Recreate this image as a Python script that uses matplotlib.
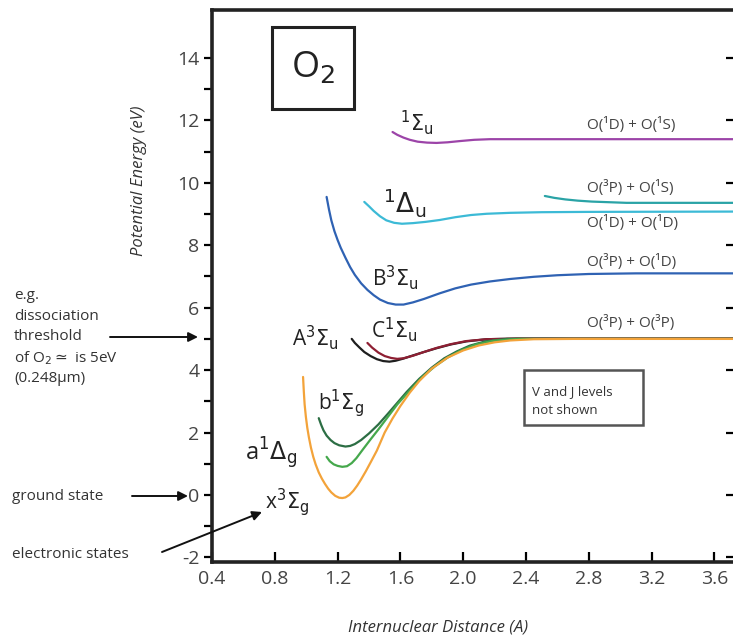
import matplotlib
matplotlib.use("Agg")
import matplotlib.pyplot as plt
from matplotlib.patches import Rectangle

plt.rcParams['font.family'] = ['Open Sans', 'DejaVu Sans']
plt.rcParams['mathtext.fontset'] = 'dejavusans'
plt.rcParams['axes.unicode_minus'] = False

# potential curves (internuclear distance in A, energy in eV)
x_X3Sg = [0.98, 0.985, 0.99, 0.998, 1.007, 1.017, 1.03, 1.045, 1.06, 1.08, 1.1, 1.12, 1.14, 1.16, 1.185,
          1.21, 1.23, 1.25, 1.275, 1.3, 1.325, 1.35, 1.38, 1.41, 1.45, 1.5, 1.55, 1.6, 1.66, 1.72, 1.8,
          1.9, 2.0, 2.1, 2.2, 2.3, 2.45, 2.7, 3.74]
y_X3Sg = [3.78, 3.3, 2.9, 2.5, 2.15, 1.85, 1.52, 1.22, 0.98, 0.72, 0.52, 0.35, 0.2, 0.08, -0.03,
          -0.09, -0.1, -0.08, 0.0, 0.13, 0.3, 0.5, 0.76, 1.04, 1.42, 2.0, 2.45, 2.85, 3.28, 3.65, 4.05,
          4.4, 4.63, 4.79, 4.89, 4.95, 4.99, 5.0, 5.0]

x_a1Dg = [1.13, 1.15, 1.175, 1.2, 1.23, 1.26, 1.29, 1.32, 1.36, 1.41, 1.46, 1.52, 1.58, 1.66, 1.74,
          1.82, 1.9, 1.98, 2.08, 2.19, 2.35, 3.74]
y_a1Dg = [1.22, 1.08, 0.98, 0.93, 0.9, 0.92, 1.02, 1.18, 1.45, 1.78, 2.1, 2.5, 2.9, 3.35, 3.78,
          4.12, 4.4, 4.62, 4.82, 4.94, 5.0, 5.0]

x_b1Sg = [1.08, 1.095, 1.11, 1.13, 1.155, 1.18, 1.21, 1.25, 1.28, 1.31, 1.35, 1.4, 1.46, 1.52, 1.58,
          1.64, 1.72, 1.8, 1.88, 1.96, 2.04, 2.14, 2.28, 3.74]
y_b1Sg = [2.46, 2.25, 2.07, 1.9, 1.76, 1.66, 1.59, 1.55, 1.57, 1.63, 1.76, 1.97, 2.26, 2.6, 2.95,
          3.3, 3.72, 4.08, 4.38, 4.6, 4.78, 4.92, 5.0, 5.0]

x_A3Su = [1.29, 1.31, 1.34, 1.37, 1.41, 1.45, 1.49, 1.53, 1.57, 1.62, 1.68, 1.75, 1.83, 1.92, 2.02,
          2.15, 2.35, 3.74]
y_A3Su = [5.0, 4.87, 4.72, 4.58, 4.45, 4.35, 4.29, 4.27, 4.3, 4.37, 4.47, 4.58, 4.7, 4.82, 4.92,
          4.99, 5.01, 5.01]

x_C1Su = [1.39, 1.42, 1.46, 1.5, 1.54, 1.58, 1.62, 1.68, 1.75, 1.83, 1.92, 2.02, 2.15, 2.35, 3.74]
y_C1Su = [4.87, 4.72, 4.56, 4.45, 4.39, 4.36, 4.38, 4.46, 4.58, 4.71, 4.83, 4.93, 4.99, 5.01, 5.01]

x_B3Su = [1.13, 1.145, 1.16, 1.18, 1.2, 1.22, 1.25, 1.28, 1.31, 1.35, 1.39, 1.43, 1.47, 1.52, 1.57,
          1.62, 1.68, 1.75, 1.85, 1.95, 2.05, 2.17, 2.3, 2.45, 2.6, 2.8, 3.1, 3.74]
y_B3Su = [9.55, 9.15, 8.8, 8.45, 8.17, 7.92, 7.6, 7.3, 7.05, 6.78, 6.57, 6.4, 6.26, 6.15, 6.1,
          6.1, 6.17, 6.28, 6.46, 6.62, 6.74, 6.84, 6.92, 6.99, 7.04, 7.08, 7.1, 7.1]

x_1Du = [1.37, 1.4, 1.43, 1.47, 1.51, 1.56, 1.61, 1.68, 1.76, 1.85, 1.95, 2.05, 2.15, 2.3, 2.5, 2.8, 3.74]
y_1Du = [9.39, 9.25, 9.1, 8.93, 8.8, 8.72, 8.69, 8.71, 8.75, 8.81, 8.9, 8.97, 9.01, 9.04, 9.06, 9.07, 9.08]

x_3P1S = [2.52, 2.58, 2.65, 2.73, 2.82, 2.93, 3.04, 3.74]
y_3P1S = [9.58, 9.52, 9.47, 9.43, 9.4, 9.38, 9.36, 9.36]

x_1Su = [1.55, 1.58, 1.62, 1.66, 1.71, 1.77, 1.83, 1.9, 1.98, 2.07, 2.17, 2.4, 3.74]
y_1Su = [11.63, 11.54, 11.45, 11.38, 11.32, 11.29, 11.28, 11.3, 11.34, 11.38, 11.4, 11.4, 11.4]

limits = ['O(¹D) + O(¹S)', 'O(³P) + O(¹S)', 'O(¹D) + O(¹D)', 'O(³P) + O(¹D)', 'O(³P) + O(³P)']
limit_y = [11.86, 9.84, 8.72, 7.47, 5.51]

x_ticks = [0.4, 0.8, 1.2, 1.6, 2.0, 2.4, 2.8, 3.2, 3.6]
y_ticks = [-2, 0, 2, 4, 6, 8, 10, 12, 14]

W, H = 733, 635
fig = plt.figure(figsize=(W / 100, H / 100), dpi=100)


def fx(px):
    return px / W


def fy(py):
    return 1 - py / H


ax = fig.add_axes([fx(212), fy(562), (734 - 212) / W, (562 - 10) / H])
ax.set_xlim(0.4, 0.4 + (734 - 212) / 157)
ax.set_ylim(-2.15, 15.54)

curves = [
    (x_B3Su, y_B3Su, '#2f62b3'),
    (x_1Du, y_1Du, '#3cbad6'),
    (x_3P1S, y_3P1S, '#2aa3a6'),
    (x_1Su, y_1Su, '#9c44a8'),
    (x_A3Su, y_A3Su, '#1e1e1e'),
    (x_C1Su, y_C1Su, '#8e1f33'),
    (x_b1Sg, y_b1Sg, '#2c6e44'),
    (x_a1Dg, y_a1Dg, '#45a84c'),
    (x_X3Sg, y_X3Sg, '#f3a33a'),
]
for xs, ys, c in curves:
    ax.plot(xs, ys, color=c, lw=1.6, solid_joinstyle='round', solid_capstyle='round')

for txt, yy in zip(limits, limit_y):
    ax.text(2.79, yy, txt, fontsize=11, color='#444444', va='center', ha='left')

# state labels
lab = dict(color='#222222', va='center', ha='left')
ax.text(1.597, 11.92, r'$^{1}\Sigma_{\rm u}$', fontsize=15, **lab)
ax.text(1.49, 9.36, r'$^{1}\Delta_{\rm u}$', fontsize=19, **lab)
ax.text(1.42, 6.96, r'B$^{3}\Sigma_{\rm u}$', fontsize=15, **lab)
ax.text(1.41, 5.29, r'C$^{1}\Sigma_{\rm u}$', fontsize=15, **lab)
ax.text(0.91, 5.03, r'A$^{3}\Sigma_{\rm u}$', fontsize=15, **lab)
ax.text(1.075, 2.95, r'b$^{1}\Sigma_{\rm g}$', fontsize=15, **lab)
ax.text(0.61, 1.35, r'a$^{1}\Delta_{\rm g}$', fontsize=17, **lab)
ax.text(0.74, -0.22, r'x$^{3}\Sigma_{\rm g}$', fontsize=15, **lab)

ax.set_xticks(x_ticks)
ax.set_xticklabels(['%.1f' % v for v in x_ticks])
ax.set_yticks(y_ticks)
ax.set_yticklabels(['%d' % v for v in y_ticks])
ax.set_yticks([v + 1 for v in y_ticks[:-1]], minor=True)
ax.tick_params(axis='x', direction='in', length=7, width=1.6, labelsize=14, labelcolor='#444444', pad=6)
ax.tick_params(axis='y', which='both', direction='out', length=6, width=1.6, labelsize=14,
               labelcolor='#444444', pad=3)
for side in ['left', 'bottom', 'top']:
    ax.spines[side].set_linewidth(2.6)
    ax.spines[side].set_color('#222222')
ax.spines['right'].set_visible(False)

# small dashes on the (cut off) right edge
ax.tick_params(axis='y', which='major', right=True)
for t in ax.yaxis.get_major_ticks():
    t.tick2line.set_marker(0)
    t.tick2line.set_markersize(6)

ax.set_ylabel('Potential Energy (eV)', fontsize=12, style='italic', color='#333333')
ax.yaxis.set_label_coords(-0.124, 0.69)
ax.set_xlabel('Internuclear Distance (A)', fontsize=12, style='italic', color='#333333')
ax.xaxis.set_label_coords(0.433, -0.105)

# O2 box
fig.patches.append(Rectangle((fx(272), fy(109)), 82 / W, 82 / H, transform=fig.transFigure,
                             fill=False, lw=2.2, ec='#222222'))
fig.text(fx(313), fy(68), r'O$_2$', fontsize=26, ha='center', va='center', color='#222222')

# V and J box
fig.patches.append(Rectangle((fx(524), fy(425)), (643 - 524) / W, (425 - 370) / H,
                             transform=fig.transFigure, fill=False, lw=1.8, ec='#555555'))
fig.text(fx(532), fy(392), 'V and J levels', fontsize=9.5, color='#333333', va='center')
fig.text(fx(532), fy(411), 'not shown', fontsize=9.5, color='#333333', va='center')

# left notes
note = dict(fontsize=11, color='#333333', va='center', ha='left')
fig.text(fx(14), fy(295), 'e.g.', **note)
fig.text(fx(14), fy(316), 'dissociation', **note)
fig.text(fx(14), fy(337), 'threshold', **note)
fig.text(fx(14), fy(358), r'of O$_2$$\simeq$ is 5eV', **note)
fig.text(fx(14), fy(379), '(0.248µm)', **note)
fig.text(fx(12), fy(496), 'ground state', **note)
fig.text(fx(12), fy(555), 'electronic states', **note)

arr = dict(arrowstyle='-|>', color='#111111', lw=1.4, mutation_scale=14, shrinkA=0, shrinkB=0)
ax.annotate('', xy=(fx(198), fy(337)), xytext=(fx(110), fy(337)), xycoords='figure fraction',
            arrowprops=arr, annotation_clip=False)
ax.annotate('', xy=(fx(188), fy(496)), xytext=(fx(132), fy(496)), xycoords='figure fraction',
            arrowprops=arr, annotation_clip=False)
ax.annotate('', xy=(fx(262), fy(512)), xytext=(fx(162), fy(552)), xycoords='figure fraction',
            arrowprops=arr, annotation_clip=False)

fig.savefig('out.png', dpi=100)
